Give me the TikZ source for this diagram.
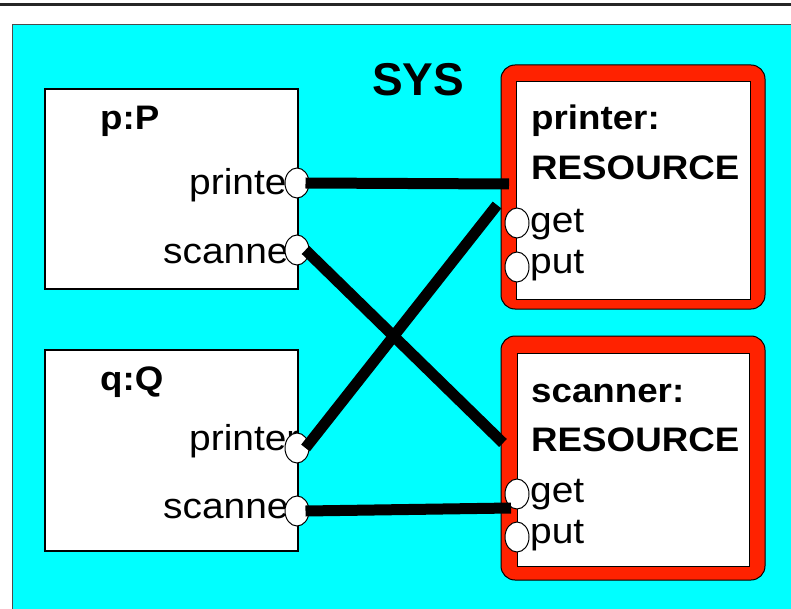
\documentclass[tikz,border=0pt]{standalone}
\usepackage{fontspec}
\setmainfont[FakeStretch=1.08]{Liberation Sans}
\newfontfamily\sysfont{Liberation Sans}
\usetikzlibrary{shapes.geometric}
\def\printerframe{(501,65) rectangle (765,309)}
\def\scannerframe{(501,336) rectangle (765,580)}
\definecolor{sys area}{RGB}{0,255,255}
\definecolor{resource edge}{RGB}{255,34,0}
\tikzset{part/.style={draw=black, line width=1.5pt, fill=white, inner sep=0pt},
    frame/.style={fill=resource edge, draw=black, line width=1pt, rounded corners=14pt},
    port/.style={ellipse, draw=black, line width=1pt, fill=white, inner sep=0pt,
        minimum width=24pt, minimum height=30pt},
    wire/.style={line width=11pt},
    portname/.style={font=\fontsize{36}{40}\selectfont, inner sep=0pt},
    partname/.style={font=\bfseries\fontsize{34}{40}\selectfont, inner sep=0pt}}

\begin{document}
\begin{tikzpicture}[x=1pt, y=-1pt]
    \useasboundingbox (0,0) rectangle (791,609);
    \clip (0,0) rectangle (791,609);
    \draw[line width=3pt, black!85] (-5,5) -- (800,5);
    \draw[fill=sys area, draw=black!70, line width=1pt] (12,25) rectangle (820,640);
    \node[anchor=base west, inner sep=0pt, font=\sysfont\bfseries\fontsize{46}{50}\selectfont] (sys) at (372,96) {SYS};
    % the two clients
    \node[part, minimum width=253pt, minimum height=200pt] (p) at (171.5,189) {};
    \node[part, minimum width=253pt, minimum height=201pt] (q) at (171.5,450.5) {};
    \node[partname, anchor=base west] (pname) at (100,130) {p:P};
    \node[partname, anchor=base west] (qname) at (100,390) {q:Q};
    \node[portname, anchor=base west] at (189,195) {printer};
    \node[portname, anchor=base west] at (163,263) {scanner};
    \node[portname, anchor=base west] at (189,450) {printer};
    \node[portname, anchor=base west] at (163,518) {scanner};
    \node[port] (pprn) at (297,183) {};
    \node[port] (pscn) at (297,250) {};
    \node[port] (qprn) at (297,448) {};
    \node[port] (qscn) at (297,511) {};
    % the two resources
    \draw[frame] \printerframe;
    \draw[frame] \scannerframe;
    \node[part, line width=1pt, minimum width=234pt, minimum height=217pt] (printer) at (633,190.5) {};
    \node[part, line width=1pt, minimum width=232pt, minimum height=213pt] (scanner) at (633,459.5) {};
    \node[partname, anchor=base west] at (531,130) {printer:};
    \node[partname, anchor=base west] at (531,180) {RESOURCE};
    \node[partname, anchor=base west] at (531,402) {scanner:};
    \node[partname, anchor=base west] at (531,451) {RESOURCE};
    \node[portname, anchor=base west] at (530,233) {get};
    \node[portname, anchor=base west] at (530,273) {put};
    \node[portname, anchor=base west] at (530,502) {get};
    \node[portname, anchor=base west] at (530,543) {put};
    \node[port] (prget) at (517,223) {};
    \node[port] (prput) at (517,267) {};
    \node[port] (scget) at (517,494) {};
    \node[port] (scput) at (517,537) {};
    % wires
    \coordinate (prin1) at (509,184);
    \coordinate (prin2) at (497,205);
    \coordinate (scan1) at (503,443);
    \coordinate (scan2) at (511,508);
    \draw[wire] ([xshift=-4pt]pprn.east) -- (prin1);
    \draw[wire] ([xshift=-4pt]pscn.east) -- (scan1);
    \draw[wire] ([xshift=-4pt]qprn.east) -- (prin2);
    \draw[wire] ([xshift=-4pt]qscn.east) -- (scan2);
\end{tikzpicture}
\end{document}
